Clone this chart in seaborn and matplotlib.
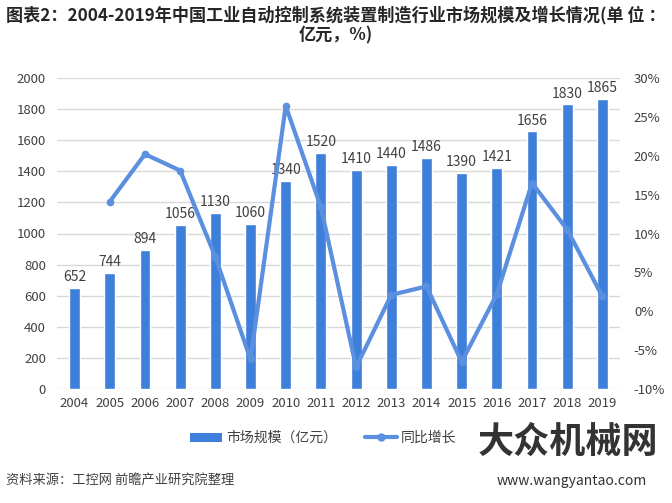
import numpy as np
import pandas as pd
import matplotlib
matplotlib.use("Agg")
import matplotlib.pyplot as plt
import seaborn as sns
from matplotlib.patches import Patch
from matplotlib.lines import Line2D
from matplotlib.ticker import FuncFormatter

years = ["2004", "2005", "2006", "2007", "2008", "2009", "2010", "2011",
         "2012", "2013", "2014", "2015", "2016", "2017", "2018", "2019"]
market = [652, 744, 894, 1056, 1130, 1060, 1340, 1520,
          1410, 1440, 1486, 1390, 1421, 1656, 1830, 1865]
growth = [np.nan, 14.1, 20.2, 18.1, 7.0, -6.2, 26.4, 13.4,
          -7.2, 2.1, 3.2, -6.5, 2.2, 16.5, 10.5, 1.9]

title = "图表2：2004-2019年中国工业自动控制系统装置制造行业市场规模及增长情况(单 位 ：\n亿元，%)"
bar_label = "市场规模（亿元）"
line_label = "同比增长"
source = "资料来源：工控网 前瞻产业研究院整理"

sns.set_theme(style="white")
plt.rcParams['font.family'] = ['Noto Sans CJK SC', 'DejaVu Sans']

bar_color = "#3D7FDA"
line_color = "#5B8FDF"
text_color = "#404040"

fig = plt.figure(figsize=(6.72, 5.03), dpi=100)
ax = fig.add_axes([57/672, 1-389/503, (620-57)/672, (389-78)/503])

df = pd.DataFrame({"year": years, "market": market, "growth": growth})
df["idx"] = np.arange(len(years))

sns.barplot(data=df, x="year", y="market", color=bar_color, width=0.31,
            saturation=1, ax=ax, zorder=2)
ax.set_ylim(0, 2000)
ax.set_yticks(np.arange(0, 2001, 200))
ax.set_xlim(-0.5, len(years) - 0.5)
ax.set_xlabel("")
ax.set_ylabel("")
ax.grid(axis="y", color="#D9D9D9", linewidth=1, zorder=0)
ax.set_axisbelow(True)
for s in ax.spines.values():
    s.set_visible(False)
ax.tick_params(axis="both", length=0, labelsize=9.5, labelcolor=text_color)
ax.tick_params(axis="y", pad=8)
ax.tick_params(axis="x", pad=6)

for i, v in enumerate(market):
    ax.text(i, v + 25, str(v), ha="center", va="bottom", fontsize=10, color=text_color)

ax2 = ax.twinx()
sns.lineplot(data=df, x="idx", y="growth", ax=ax2, color=line_color, linewidth=3.0,
             marker="o", markersize=5.5, markeredgewidth=0, zorder=3)
ax2.set_ylim(-10, 30)
ax2.set_yticks(np.arange(-10, 31, 5))
ax2.yaxis.set_major_formatter(FuncFormatter(lambda v, p: f"{int(v)}%"))
ax2.set_xlim(-0.5, len(years) - 0.5)
ax2.set_xlabel("")
ax2.set_ylabel("")
ax2.grid(False)
for s in ax2.spines.values():
    s.set_visible(False)
ax2.tick_params(axis="y", length=0, labelsize=9.5, labelcolor=text_color, pad=10)

fig.text(0.5, 0.988, title, ha="center", va="top", fontsize=12.3,
         fontweight="bold", color="#262626", linespacing=1.1)

handles = [Patch(facecolor=bar_color, edgecolor="none"),
           Line2D([0], [0], color=line_color, linewidth=3.0, marker="o", markersize=5)]
fig.legend(handles, [bar_label, line_label], loc="center", bbox_to_anchor=(323/672, 1-438/503),
           ncol=2, frameon=False, fontsize=10, handlelength=2.3, handleheight=0.6,
           columnspacing=2.0, handletextpad=0.3, labelcolor=text_color)

fig.text(6/672, 1-480/503, source, ha="left", va="center", fontsize=9.5, color=text_color)

fig.text(568/672, 1-442/503, "大众机械网", ha="center", va="center", fontsize=26,
         fontweight="bold", color="#333333")
fig.text(572/672, 1-481/503, "www.wangyantao.com", ha="center", va="center", fontsize=10,
         color="#333333")

fig.savefig("out.png", dpi=100)
